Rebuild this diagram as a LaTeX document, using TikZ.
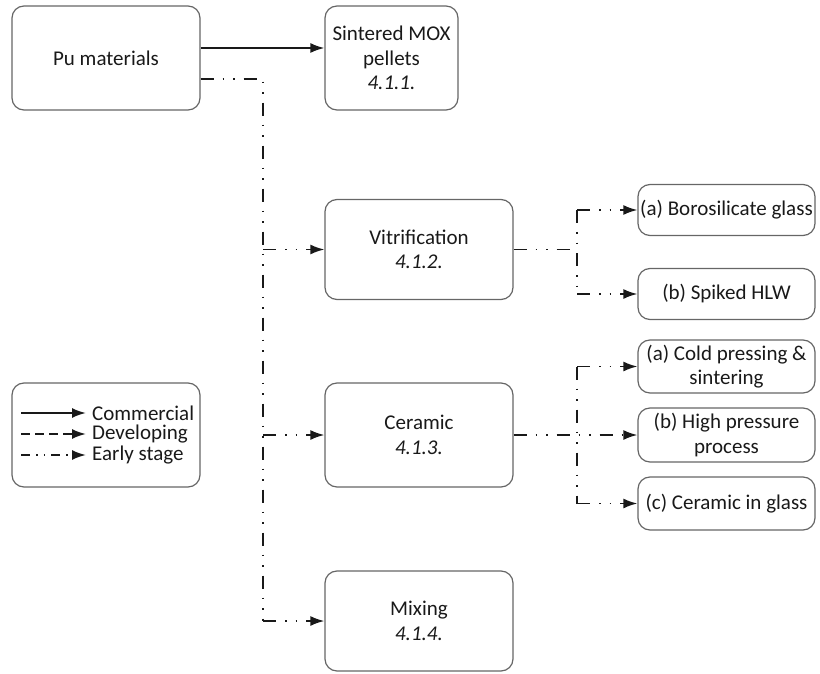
\documentclass[tikz,border=0pt]{standalone}
\usepackage{fontspec}
\setmainfont{Carlito}
\usetikzlibrary{arrows.meta}

\tikzset{
    box/.style={draw=black!60, line width=1.2pt, rounded corners=12pt, align=center,
        text=black!90, font=\fontsize{21}{24.5}\selectfont,
        minimum width=188pt, minimum height=104pt, inner sep=2pt},
    subbox/.style={box, minimum width=177pt, minimum height=51pt},
    commercial/.style={line width=1.9pt, black!90},
    developing/.style={line width=1.9pt, black!90, dash pattern=on 9pt off 5pt},
    early/.style={line width=1.9pt, black!90,
        dash pattern=on 13pt off 9pt on 1.5pt off 9pt on 1.5pt off 9pt},
    legtext/.style={anchor=west, inner sep=0pt, text=black!90, font=\fontsize{21}{21}\selectfont}
}

\begin{document}
\begin{tikzpicture}[x=1pt, y=-1pt, >={Latex[length=14pt,width=10pt]}]
    \useasboundingbox (0,0) rectangle (820,674);

    % main column
    \node [box] (pu) at (106, 58) {Pu materials};
    \node [box, minimum width=133pt] (mox) at (391.5, 58) {Sintered MOX\\pellets\\\textit{4.1.1.}};
    \node [box, minimum height=100pt] (vit) at (419, 249.5) {Vitrification\\\textit{4.1.2.}};
    \node [box] (cer) at (419, 435) {Ceramic\\\textit{4.1.3.}};
    \node [box, minimum height=100pt] (mix) at (419, 621) {Mixing\\\textit{4.1.4.}};

    % sub routes
    \node [subbox] (boro) at (726.5, 210) {(a) Borosilicate glass};
    \node [subbox] (hlw) at (726.5, 294) {(b) Spiked HLW};
    \node [subbox, minimum height=53pt] (cold) at (726.5, 366.5) {(a) Cold pressing \&\\sintering};
    \node [subbox, minimum height=54pt] (high) at (726.5, 435) {(b) High pressure\\process};
    \node [subbox, minimum height=53pt] (cig) at (726.5, 503.5) {(c) Ceramic in glass};

    % legend
    \node [box] (legend) at (106, 435) {};
    \node [legtext] (lcom) at (92, 413) {Commercial};
    \node [legtext] (ldev) at (92, 434) {Developing};
    \node [legtext] (lear) at (92, 455) {Early stage};
    \draw [commercial, ->] ([xshift=10pt]legend.west |- lcom.west) -- ([xshift=-6pt]lcom.west);
    \draw [developing, ->] ([xshift=10pt]legend.west |- ldev.west) -- ([xshift=-6pt]ldev.west);
    \draw [line width=1.9pt, black!90, dash pattern=on 9pt off 6pt on 1.5pt off 6pt on 1.5pt off 6pt, ->]
        ([xshift=10pt]legend.west |- lear.west) -- ([xshift=-6pt]lear.west);

    % connectors
    \coordinate (trunk) at (263, 0);
    \coordinate (vbr) at (577, 0);
    \coordinate (cbr) at (577, 0);
    \draw [commercial, ->] ([yshift=10pt]pu.east) -- ([yshift=10pt]mox.west);
    \draw [early] ([yshift=-21pt]pu.east) -| (trunk |- mix.west);
    \foreach \n in {vit, cer, mix}
        \draw [early, ->] (trunk |- \n.west) -- (\n.west);

    \draw [early] (vit.east) -- (vbr |- vit.east);
    \draw [early] (vbr |- boro.west) -- (vbr |- hlw.west);
    \foreach \n in {boro, hlw}
        \draw [early, ->] (vbr |- \n.west) -- (\n.west);

    \draw [early, ->] (cer.east) -- (high.west);
    \draw [early] (cbr |- cold.west) -- (cbr |- cig.west);
    \foreach \n in {cold, cig}
        \draw [early, ->] (cbr |- \n.west) -- (\n.west);
\end{tikzpicture}
\end{document}
